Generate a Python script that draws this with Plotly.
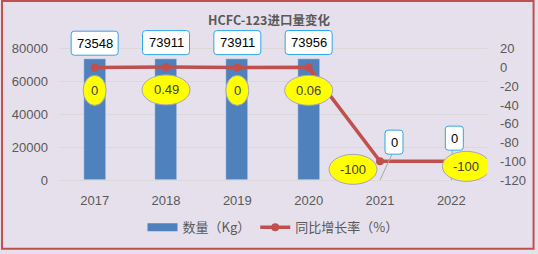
import plotly.graph_objects as go

years = ["2017", "2018", "2019", "2020", "2021", "2022"]
quantity = [73548, 73911, 73911, 73956, 0, 0]
growth = [0, 0.49, 0, 0.06, -100, -100]
growth_text = ["0", "0.49", "0", "0.06", "-100", "-100"]
left_ticks = [0, 20000, 40000, 60000, 80000]
right_ticks = [-120, -100, -80, -60, -40, -20, 0, 20]

# label offsets in pixels (styling)
bar_lbl_dx = [0, 0, 0, 0, 14, 3]
bar_lbl_dy = [16, 16, 16, 16, 38, 42]
line_lbl_dx = [0, 0, 0, 0, -27, 15]
line_lbl_dy = [-23, -23, -23, -23, -8, -5]

# layout geometry (pixels)
W, H = 538, 254
ML, MR, MT, MB = 58, 48, 26, 63
PW, PH = W - ML - MR, H - MT - MB
AX_TOP_PX, AX_BOT_PX = 49, 183          # where top/bottom ticks sit
span = AX_BOT_PX - AX_TOP_PX
extra_top = AX_TOP_PX - MT
extra_bot = (H - MB) - AX_BOT_PX

lmin, lmax = left_ticks[0], left_ticks[-1]
rmin, rmax = right_ticks[0], right_ticks[-1]
lr = [lmin - extra_bot * (lmax - lmin) / span, lmax + extra_top * (lmax - lmin) / span]
rr = [rmin - extra_bot * (rmax - rmin) / span, rmax + extra_top * (rmax - rmin) / span]

xs = list(range(len(years)))
fig = go.Figure()
fig.add_trace(go.Bar(x=xs, y=quantity, width=0.31, marker=dict(color="#4F81BD"),
                     name="数量（Kg）", yaxis="y", showlegend=False))
# legend proxy for the bars (wide rectangle swatch)
fig.add_trace(go.Scatter(x=[None], y=[None], mode="lines", line=dict(color="#4F81BD", width=8),
                         name="数量（Kg）", yaxis="y"))
fig.add_trace(go.Scatter(x=xs, y=growth, mode="lines+markers", yaxis="y2",
                         line=dict(color="#C0504D", width=3.5),
                         marker=dict(color="#C0504D", size=8),
                         name="同比增长率（%）"))

shapes = []
annotations = []
BOX_COL = "#2EA8E6"
ELL_LINE = "#A9A2C2"


def rrect_off(w, h, r, dx, dy):
    x0, x1, y0, y1 = dx - w / 2, dx + w / 2, dy - h / 2, dy + h / 2
    return (f"M{x0+r},{y0} L{x1-r},{y0} Q{x1},{y0} {x1},{y0+r} L{x1},{y1-r} Q{x1},{y1} {x1-r},{y1} "
            f"L{x0+r},{y1} Q{x0},{y1} {x0},{y1-r} L{x0},{y0+r} Q{x0},{y0} {x0+r},{y0} Z")


# leader lines for zero-value bar labels
for i, v in enumerate(quantity):
    if v == 0:
        shapes.append(dict(type="line", xref="x", yref="y", xsizemode="pixel", ysizemode="pixel",
                           xanchor=xs[i], yanchor=v, x0=0, y0=0,
                           x1=bar_lbl_dx[i] - 2, y1=bar_lbl_dy[i] - 12,
                           line=dict(color="#A6A6A6", width=1), layer="above"))

# bar value boxes
for i, v in enumerate(quantity):
    txt = f"{v}"
    w = 47 if len(txt) > 1 else 18
    shapes.append(dict(type="path", xref="x", yref="y", xsizemode="pixel", ysizemode="pixel",
                       xanchor=xs[i], yanchor=v,
                       path=rrect_off(w, 24, 3, bar_lbl_dx[i], bar_lbl_dy[i]),
                       fillcolor="white", line=dict(color=BOX_COL, width=1), layer="above"))
    annotations.append(dict(x=xs[i], y=v, xref="x", yref="y", text=txt, showarrow=False,
                            xshift=bar_lbl_dx[i], yshift=bar_lbl_dy[i],
                            font=dict(size=13, color="#000000", family="Liberation Sans")))

# growth ellipses
for i, g in enumerate(growth):
    t = growth_text[i]
    w = 23 if len(t) == 1 else 48
    dx, dy = line_lbl_dx[i], line_lbl_dy[i]
    shapes.append(dict(type="circle", xref="x", yref="y2", xsizemode="pixel", ysizemode="pixel",
                       xanchor=xs[i], yanchor=g, x0=dx - w / 2, x1=dx + w / 2, y0=dy - 15, y1=dy + 15,
                       fillcolor="#FFFF00", line=dict(color=ELL_LINE, width=1), layer="above"))
    annotations.append(dict(x=xs[i], y=g, xref="x", yref="y2", text=t, showarrow=False,
                            xshift=dx, yshift=dy,
                            font=dict(size=13, color="#404040", family="Liberation Sans")))

# outer border
shapes.append(dict(type="rect", xref="paper", yref="paper",
                   x0=-(ML - 0.5) / PW, x1=1 + (MR - 1) / PW,
                   y0=-(MB - 1) / PH, y1=1 + (MT - 0.5) / PH,
                   line=dict(color="#C0504D", width=2), layer="above"))

tickfont = dict(size=13, color="#595959", family="Liberation Sans")
fig.update_layout(
    width=W, height=H,
    margin=dict(l=ML, r=MR, t=MT, b=MB),
    paper_bgcolor="#E6E0EC", plot_bgcolor="#E6E0EC",
    title=dict(text="<b>HCFC-123进口量变化</b>", x=0.5, xref="container", xanchor="center",
               y=1 - 21 / H, yref="container", yanchor="middle",
               font=dict(size=12.5, color="#595959", family="Noto Sans CJK SC")),
    xaxis=dict(range=[-0.5, 5.5], tickvals=xs, ticktext=years, showgrid=False, zeroline=False,
               showline=False, ticks="", ticklabelstandoff=3, tickfont=tickfont),
    yaxis=dict(range=lr, tickvals=left_ticks, ticktext=[str(t) for t in left_ticks],
               showgrid=True, gridcolor="#D9D9D9", zeroline=False,
               ticks="", ticklabelstandoff=10, tickfont=tickfont),
    yaxis2=dict(range=rr, tickvals=right_ticks, ticktext=[str(t) for t in right_ticks],
                overlaying="y", side="right", showgrid=False,
                zeroline=False, ticks="", ticklabelstandoff=12, tickfont=tickfont),
    legend=dict(orientation="h", x=0.5, xanchor="center", y=-40 / PH, yanchor="middle",
                font=dict(size=13, color="#595959", family="Noto Sans CJK SC"),
                bgcolor="rgba(0,0,0,0)", itemwidth=30),
    shapes=shapes, annotations=annotations, showlegend=True, bargap=0,
)

fig.write_html("out.html")
